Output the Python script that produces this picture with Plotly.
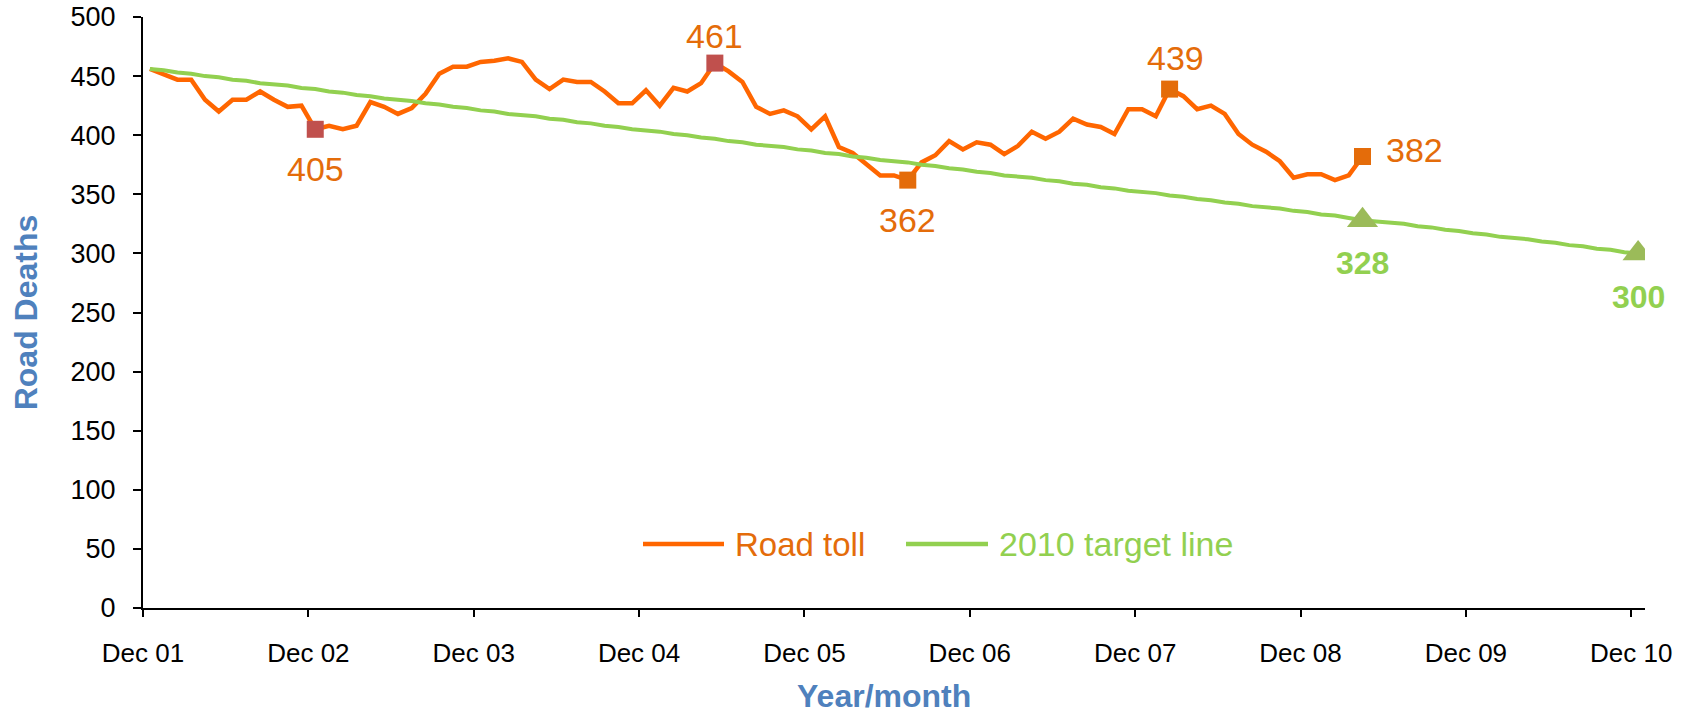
import plotly.graph_objects as go

# ---------------- data ----------------
year_labels = ["Dec 01", "Dec 02", "Dec 03", "Dec 04", "Dec 05",
               "Dec 06", "Dec 07", "Dec 08", "Dec 09", "Dec 10"]

# monthly rolling road toll, Dec 01 .. Apr/May 09 (89 months)
road_toll = [456, 451, 447, 447, 430, 420, 430, 430, 437, 430, 424, 425,
             405, 408, 405, 408, 428, 424, 418, 423, 435, 452, 458, 458,
             462, 463, 465, 462, 447, 439, 447, 445, 445, 437, 427, 427,
             438, 425, 440, 437, 444, 461, 454, 445, 424, 418, 421, 416,
             405, 416, 390, 385, 375, 366, 366, 362, 377, 383, 395, 388,
             394, 392, 384, 391, 403, 397, 403, 414, 409, 407, 401, 422,
             422, 416, 439, 433, 422, 425, 418, 401, 392, 386, 378, 364,
             367, 367, 362, 366, 382]

# 2010 target line, Dec 01 .. Dec 10 (109 months)
target = [456, 455, 453, 452, 450, 449, 447, 446, 444, 443, 442, 440,
          439, 437, 436, 434, 433, 431, 430, 429, 427, 426, 424, 423,
          421, 420, 418, 417, 416, 414, 413, 411, 410, 408, 407, 405,
          404, 403, 401, 400, 398, 397, 395, 394, 392, 391, 390, 388,
          387, 385, 384, 382, 381, 379, 378, 377, 375, 374, 372, 371,
          369, 368, 366, 365, 364, 362, 361, 359, 358, 356, 355, 353,
          352, 351, 349, 348, 346, 345, 343, 342, 340, 339, 338, 336,
          335, 333, 332, 330, 328, 327, 326, 325, 323, 322, 320, 319,
          317, 316, 314, 313, 312, 310, 309, 307, 306, 304, 303, 301,
          300]

# highlighted points (month index)
toll_hi_idx = [12, 41, 55, 74, 88]
target_hi_idx = [88, 108]

# ---------------- styling ----------------
FONT = "Arial, Liberation Sans, sans-serif"
ORANGE_LINE = "#FF6600"
ORANGE_TXT = "#E46C0A"
RED_MARK = "#C0504D"
GREEN_LINE = "#92D050"
GREEN_MARK = "#9BBB59"
BLUE = "#4F81BD"

toll_hi_colors = [RED_MARK, RED_MARK, ORANGE_TXT, ORANGE_TXT, ORANGE_TXT]
# label offsets in px (xshift, yshift)
toll_label_off = [(0, -40), (0, 27), (0, -40), (6, 31), (52, 6)]
target_label_off = [(0, -43), (0, -44)]

W, H = 1703, 713
L, T = 143, 17
R = W - 1645
B = H - 608
PW, PH = W - L - R, H - T - B


def px2x(px):
    return (px - L) / PW


def py2y(py):
    return (H - B - py) / PH


months_toll = list(range(len(road_toll)))
months_target = list(range(len(target)))

fig = go.Figure()

fig.add_trace(go.Scatter(
    x=months_toll, y=road_toll, mode="lines", name="Road toll",
    line=dict(color=ORANGE_LINE, width=4.5), showlegend=False))

fig.add_trace(go.Scatter(
    x=months_target, y=target, mode="lines", name="2010 target line",
    line=dict(color=GREEN_LINE, width=4), showlegend=False))

fig.add_trace(go.Scatter(
    x=[months_toll[i] for i in toll_hi_idx],
    y=[road_toll[i] for i in toll_hi_idx],
    mode="markers", showlegend=False,
    marker=dict(symbol="square", size=17, color=toll_hi_colors,
                line=dict(width=0))))

fig.add_trace(go.Scatter(
    x=[months_target[i] for i in target_hi_idx],
    y=[target[i] for i in target_hi_idx],
    mode="markers", showlegend=False,
    marker=dict(symbol="triangle-up", size=27, color=GREEN_MARK,
                line=dict(width=0))))

annotations = []
for i, (dx, dy) in zip(toll_hi_idx, toll_label_off):
    annotations.append(dict(
        x=months_toll[i], y=road_toll[i], xref="x", yref="y",
        text=str(road_toll[i]), showarrow=False, xshift=dx, yshift=dy,
        xanchor="center", yanchor="middle",
        font=dict(family=FONT, size=34, color=ORANGE_TXT)))
for i, (dx, dy) in zip(target_hi_idx, target_label_off):
    annotations.append(dict(
        x=months_target[i], y=target[i], xref="x", yref="y",
        text="<b>%d</b>" % target[i], showarrow=False, xshift=dx, yshift=dy,
        xanchor="center", yanchor="middle",
        font=dict(family=FONT, size=32, color=GREEN_LINE)))

# x axis title (placed where the original has it)
annotations.append(dict(
    x=px2x(884), y=py2y(696), xref="paper", yref="paper",
    text="<b>Year/month</b>", showarrow=False, xanchor="center",
    yanchor="middle", font=dict(family=FONT, size=32, color=BLUE)))

# custom legend (long line samples as in the original)
legend_y = py2y(544)
annotations.append(dict(
    x=px2x(733), y=legend_y, xref="paper", yref="paper", text="Road toll",
    showarrow=False, xanchor="left", yanchor="middle",
    font=dict(family=FONT, size=33, color=ORANGE_TXT)))
annotations.append(dict(
    x=px2x(997), y=legend_y, xref="paper", yref="paper",
    text="2010 target line", showarrow=False, xanchor="left",
    yanchor="middle", font=dict(family=FONT, size=34, color=GREEN_LINE)))
shapes = [
    dict(type="line", xref="paper", yref="paper", x0=px2x(643), x1=px2x(724),
         y0=legend_y, y1=legend_y, line=dict(color=ORANGE_LINE, width=4.5)),
    dict(type="line", xref="paper", yref="paper", x0=px2x(906), x1=px2x(988),
         y0=legend_y, y1=legend_y, line=dict(color=GREEN_LINE, width=4.5)),
]

tick_pos = [12 * k - 0.5 for k in range(len(year_labels))]

fig.update_layout(
    width=W, height=H, autosize=False,
    margin=dict(l=L, r=R, t=T, b=B, pad=0),
    paper_bgcolor="white", plot_bgcolor="white",
    font=dict(family=FONT, size=26, color="black"),
    showlegend=False,
    annotations=annotations, shapes=shapes,
    xaxis=dict(
        range=[-0.5, 108.5], tickmode="array", tickvals=tick_pos,
        ticktext=year_labels, showgrid=False, zeroline=False,
        showline=True, linecolor="black", linewidth=2,
        ticks="outside", ticklen=7, tickwidth=2, tickcolor="black",
        tickfont=dict(family=FONT, size=26, color="black"),
        ticklabelstandoff=14, ticklabeloverflow="allow",
        automargin=False),
    yaxis=dict(
        range=[0, 500], tickmode="linear", tick0=0, dtick=50,
        showgrid=False, zeroline=False,
        showline=True, linecolor="black", linewidth=2,
        ticks="outside", ticklen=8, tickwidth=2, tickcolor="black",
        tickfont=dict(family=FONT, size=27, color="black"),
        ticklabelstandoff=12, ticklabeloverflow="allow",
        title=dict(text="<b>Road Deaths</b>", standoff=23,
                   font=dict(family=FONT, size=32, color=BLUE)),
        automargin=False),
)

# remove the default 8px page margin so the figure fills the window exactly
fig.write_html(
    "out.html",
    config={"displayModeBar": False},
    post_script="document.body.style.margin='0';"
                "document.body.style.overflow='hidden';")
